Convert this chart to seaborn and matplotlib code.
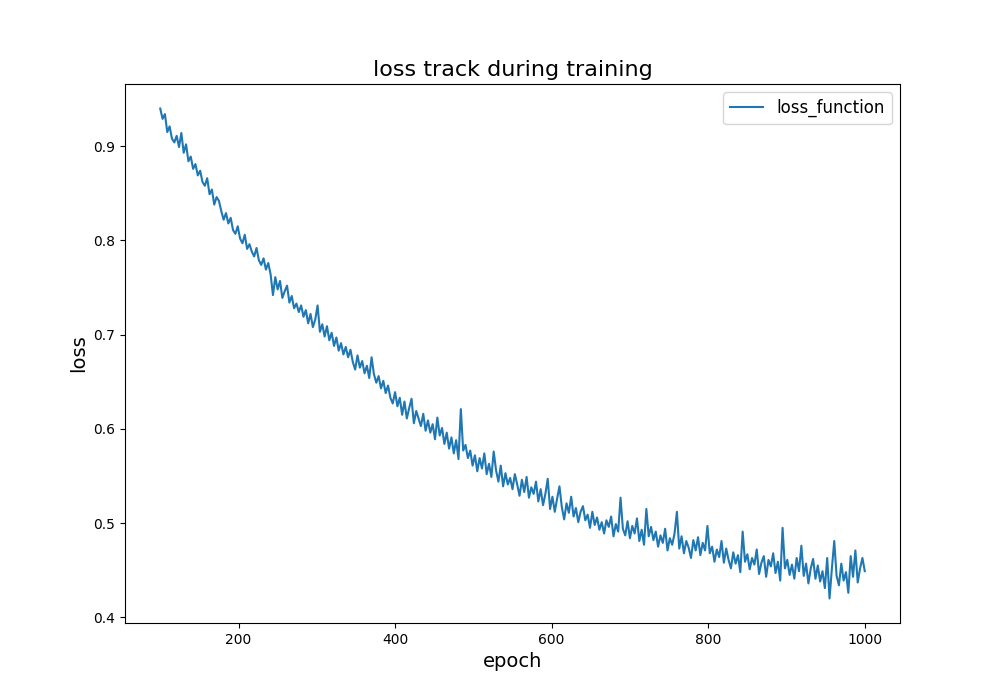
import matplotlib
matplotlib.use("Agg")
import matplotlib.pyplot as plt
import seaborn as sns
import pandas as pd

epochs = list(range(100, 1001, 3))
loss_values = [
    0.940, 0.929, 0.934, 0.915, 0.921, 0.908, 0.904, 0.911, 0.899, 0.914,
    0.893, 0.902, 0.884, 0.889, 0.876, 0.881, 0.869, 0.874, 0.862, 0.858,
    0.866, 0.849, 0.854, 0.838, 0.846, 0.842, 0.831, 0.822, 0.829, 0.818,
    0.824, 0.811, 0.807, 0.815, 0.802, 0.797, 0.806, 0.791, 0.796, 0.788,
    0.783, 0.792, 0.779, 0.774, 0.781, 0.769, 0.776, 0.764, 0.742, 0.761,
    0.748, 0.757, 0.739, 0.746, 0.752, 0.734, 0.741, 0.728, 0.733, 0.724,
    0.731, 0.719, 0.726, 0.712, 0.722, 0.708, 0.716, 0.731, 0.703, 0.711,
    0.698, 0.709, 0.694, 0.702, 0.688, 0.697, 0.683, 0.691, 0.679, 0.687,
    0.676, 0.684, 0.671, 0.663, 0.678, 0.665, 0.672, 0.659, 0.667, 0.654,
    0.676, 0.658, 0.649, 0.656, 0.643, 0.651, 0.638, 0.646, 0.633, 0.627,
    0.639, 0.624, 0.633, 0.615, 0.629, 0.611, 0.622, 0.632, 0.606, 0.619,
    0.611, 0.603, 0.616, 0.598, 0.609, 0.596, 0.605, 0.589, 0.612, 0.593,
    0.601, 0.584, 0.596, 0.579, 0.591, 0.574, 0.588, 0.568, 0.621, 0.577,
    0.583, 0.569, 0.577, 0.561, 0.572, 0.555, 0.569, 0.558, 0.574, 0.552,
    0.563, 0.549, 0.576, 0.556, 0.544, 0.561, 0.539, 0.553, 0.541, 0.548,
    0.536, 0.552, 0.541, 0.529, 0.546, 0.533, 0.549, 0.527, 0.538, 0.531,
    0.544, 0.523, 0.536, 0.519, 0.531, 0.547, 0.515, 0.528, 0.512, 0.526,
    0.539, 0.517, 0.504, 0.521, 0.511, 0.528, 0.507, 0.516, 0.501, 0.512,
    0.518, 0.503, 0.509, 0.495, 0.512, 0.498, 0.506, 0.493, 0.501, 0.489,
    0.503, 0.496, 0.507, 0.486, 0.499, 0.491, 0.527, 0.494, 0.487, 0.502,
    0.484, 0.497, 0.489, 0.505, 0.481, 0.493, 0.477, 0.515, 0.486, 0.496,
    0.482, 0.491, 0.475, 0.487, 0.479, 0.494, 0.471, 0.484, 0.477, 0.489,
    0.512, 0.473, 0.486, 0.468, 0.481, 0.474, 0.463, 0.482, 0.471, 0.485,
    0.466, 0.479, 0.471, 0.497, 0.468, 0.475, 0.459, 0.472, 0.464, 0.481,
    0.458, 0.473, 0.461, 0.452, 0.469, 0.457, 0.466, 0.448, 0.491, 0.459,
    0.467, 0.451, 0.463, 0.456, 0.472, 0.446, 0.458, 0.465, 0.443, 0.461,
    0.454, 0.468, 0.447, 0.459, 0.439, 0.495, 0.452, 0.461, 0.445, 0.456,
    0.441, 0.463, 0.449, 0.476, 0.444, 0.457, 0.436, 0.452, 0.462, 0.441,
    0.455, 0.438, 0.449, 0.431, 0.463, 0.420, 0.452, 0.481, 0.444, 0.434,
    0.457, 0.439, 0.448, 0.426, 0.465, 0.443, 0.471, 0.437, 0.452, 0.463,
    0.449,
]
series_label = "loss_function"
title_text = "loss track during training"
x_label = "epoch"
y_label = "loss"

df = pd.DataFrame({"epoch": epochs, "loss": loss_values})

fig, ax = plt.subplots(figsize=(10, 7), dpi=100)
sns.lineplot(data=df, x="epoch", y="loss", ax=ax, color="#1f77b4",
             linewidth=1.5, label=series_label)
ax.set_title(title_text, fontsize=16)
ax.set_xlabel(x_label, fontsize=14)
ax.set_ylabel(y_label, fontsize=14)
ax.set_yticks([0.4, 0.5, 0.6, 0.7, 0.8, 0.9])
ax.legend(loc="upper right", fontsize=12)
fig.savefig("out.png", dpi=100)
